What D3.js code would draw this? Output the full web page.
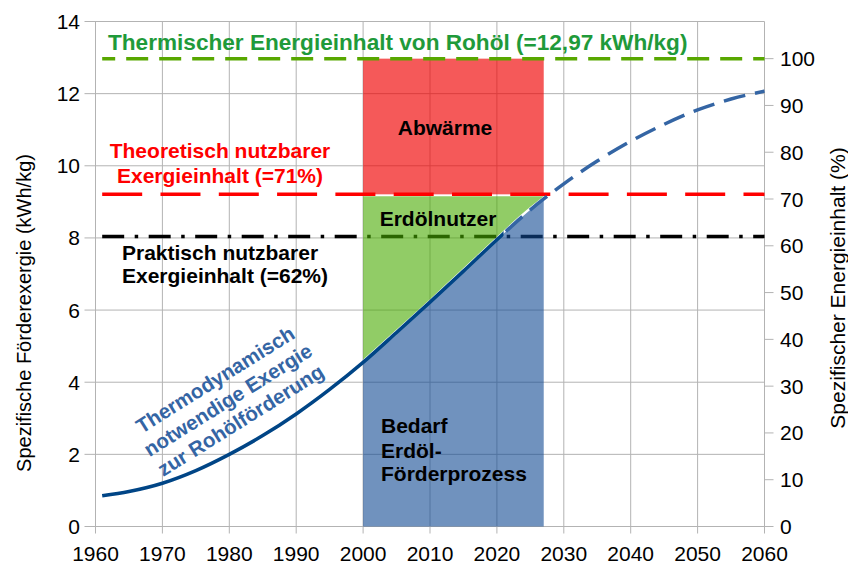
<!DOCTYPE html>
<html>
<head>
<meta charset="utf-8">
<script src="https://cdn.jsdelivr.net/npm/d3@7"></script>
<style>
  body { margin: 0; background: #fff; }
  text { font-family: "Liberation Sans", Arial, sans-serif; }
</style>
</head>
<body>
<svg id="chart"></svg>
<script>
const width = 848;
const height = 565;

// Kurve: thermodynamisch notwendige Exergie zur Rohölförderung (kWh/kg)
const curveYears = [1961, 1965, 1970, 1975, 1980, 1985, 1990, 1995, 2000, 2005, 2010, 2015, 2020, 2025, 2027, 2030, 2035, 2040, 2045, 2050, 2055, 2060];
const curveValues = [0.85, 0.97, 1.2, 1.55, 2.0, 2.52, 3.12, 3.8, 4.55, 5.38, 6.22, 7.08, 7.95, 8.78, 9.08, 9.5, 10.13, 10.68, 11.15, 11.55, 11.85, 12.07];
const solidEnd = 2021;   // ab hier gestrichelt (Prognose)

// Referenzlinien
const thermal = 12.97;          // kWh/kg = 100 %
const theoreticalPct = 71;
const practicalPct = 62;
const lineStart = 1961;

// Zeitraum der Flächen
const spanStart = 2000;
const spanEnd = 2027;

const xTicks = d3.range(1960, 2061, 10);
const yTicks = d3.range(0, 15, 2);
const pctTicks = d3.range(0, 101, 10);

const curve = curveYears.map((yr, i) => ({ year: yr, value: curveValues[i] }));

const svg = d3.select("#chart")
    .attr("width", width)
    .attr("height", height);

const x = d3.scaleLinear().domain([1960, 2060]).range([95.5, 764.5]);
const y = d3.scaleLinear().domain([0, 14]).range([526.5, 21.5]);
const yPct = d3.scaleLinear().domain([0, 100]).range([y(0), y(thermal)]);
const pctToKwh = (p) => thermal * p / 100;

const gridColor = "#b3b3b3";

const defs = svg.append("defs");
defs.append("clipPath").attr("id", "solidClip")
    .append("rect")
    .attr("x", 0).attr("y", 0)
    .attr("width", x(solidEnd)).attr("height", height);
defs.append("clipPath").attr("id", "dashClip")
    .append("rect")
    .attr("x", x(solidEnd)).attr("y", 0)
    .attr("width", width - x(solidEnd)).attr("height", height);

// Gitter
svg.append("g")
    .selectAll("line")
    .data(xTicks)
    .enter()
    .append("line")
    .attr("x1", (d) => x(d)).attr("x2", (d) => x(d))
    .attr("y1", y(14)).attr("y2", y(0) + 7)
    .attr("stroke", gridColor);

svg.append("g")
    .selectAll("line")
    .data(yTicks)
    .enter()
    .append("line")
    .attr("x1", x(1960) - 11).attr("x2", x(2060))
    .attr("y1", (d) => y(d)).attr("y2", (d) => y(d))
    .attr("stroke", gridColor);

// rechte Achse
svg.append("g")
    .selectAll("line")
    .data(pctTicks)
    .enter()
    .append("line")
    .attr("x1", x(2060)).attr("x2", x(2060) + 9)
    .attr("y1", (d) => yPct(d)).attr("y2", (d) => yPct(d))
    .attr("stroke", gridColor);

// praktisch nutzbar (62 %) - liegt unter den Flächen
svg.append("line")
    .attr("x1", x(lineStart)).attr("x2", x(2060))
    .attr("y1", y(pctToKwh(practicalPct))).attr("y2", y(pctToKwh(practicalPct)))
    .attr("stroke", "#000")
    .attr("stroke-width", 3.5)
    .attr("stroke-dasharray", "22,10.5,3.5,10.5");

// Flächen
const spanData = curve.filter((d) => d.year >= spanStart && d.year <= spanEnd);
const smooth = d3.curveMonotoneX;

svg.append("rect")
    .attr("x", x(spanStart))
    .attr("width", x(spanEnd) - x(spanStart))
    .attr("y", y(thermal))
    .attr("height", y(pctToKwh(theoreticalPct)) - y(thermal))
    .attr("fill", "#f00000")
    .attr("fill-opacity", 0.65);

svg.append("path")
    .datum(spanData)
    .attr("d", d3.area()
        .x((d) => x(d.year))
        .y0(y(pctToKwh(theoreticalPct)) + 2)
        .y1((d) => Math.max(y(d.value) - 3, y(pctToKwh(theoreticalPct)) + 2))
        .curve(smooth))
    .attr("fill", "#48aa00")
    .attr("fill-opacity", 0.6);

svg.append("path")
    .datum(spanData)
    .attr("d", d3.area()
        .x((d) => x(d.year))
        .y0(y(0))
        .y1((d) => y(d.value))
        .curve(smooth))
    .attr("fill", "#114993")
    .attr("fill-opacity", 0.6);

// theoretisch nutzbar (71 %)
svg.append("line")
    .attr("x1", x(lineStart)).attr("x2", x(2060))
    .attr("y1", y(pctToKwh(theoreticalPct))).attr("y2", y(pctToKwh(theoreticalPct)))
    .attr("stroke", "#ff0000")
    .attr("stroke-width", 3.5)
    .attr("stroke-dasharray", "40,18.3");

// thermischer Energieinhalt
svg.append("line")
    .attr("x1", x(lineStart)).attr("x2", x(2060))
    .attr("y1", y(thermal)).attr("y2", y(thermal))
    .attr("stroke", "#58a700")
    .attr("stroke-width", 3.5)
    .attr("stroke-dasharray", "22,11")
    .attr("stroke-dashoffset", 9);

// Kurve
const line = d3.line()
    .x((d) => x(d.year))
    .y((d) => y(d.value))
    .curve(d3.curveMonotoneX);

svg.append("path")
    .datum(curve)
    .attr("d", line)
    .attr("clip-path", "url(#dashClip)")
    .attr("fill", "none")
    .attr("stroke", "#3465a4")
    .attr("stroke-width", 3.5)
    .attr("stroke-dasharray", "22,10")
    .attr("stroke-dashoffset", 405);

svg.append("path")
    .datum(curve)
    .attr("d", line)
    .attr("clip-path", "url(#solidClip)")
    .attr("fill", "none")
    .attr("stroke", "#004586")
    .attr("stroke-width", 3.5);

// Achsenbeschriftung
svg.append("g")
    .selectAll("text")
    .data(yTicks)
    .enter()
    .append("text")
    .attr("x", 80)
    .attr("y", (d) => y(d) + 7.5)
    .attr("text-anchor", "end")
    .attr("font-size", 21)
    .attr("fill", "#000")
    .text((d) => d);

svg.append("g")
    .selectAll("text")
    .data(xTicks)
    .enter()
    .append("text")
    .attr("x", (d) => x(d))
    .attr("y", 561)
    .attr("text-anchor", "middle")
    .attr("font-size", 21)
    .attr("fill", "#000")
    .text((d) => d);

svg.append("g")
    .selectAll("text")
    .data(pctTicks)
    .enter()
    .append("text")
    .attr("x", 780)
    .attr("y", (d) => yPct(d) + 7.5)
    .attr("font-size", 21)
    .attr("fill", "#000")
    .text((d) => d);

svg.append("text")
    .attr("transform", "translate(31,313) rotate(-90)")
    .attr("text-anchor", "middle")
    .attr("font-size", 20)
    .text("Spezifische Förderexergie (kWh/kg)");

svg.append("text")
    .attr("transform", "translate(845,288) rotate(-90)")
    .attr("text-anchor", "middle")
    .attr("font-size", 21)
    .text("Spezifischer Energieinhalt (%)");

// Annotationen
const bold = (sel) => sel.attr("font-weight", "bold").attr("font-size", 21);

bold(svg.append("text"))
    .attr("x", 108).attr("y", 50)
    .attr("font-size", 22.6)
    .attr("fill", "#1f9a3a")
    .text("Thermischer Energieinhalt von Rohöl (=12,97 kWh/kg)");

const redLabel = bold(svg.append("text"))
    .attr("text-anchor", "middle")
    .attr("fill", "#ff0000");
redLabel.append("tspan").attr("x", 220).attr("y", 158).text("Theoretisch nutzbarer");
redLabel.append("tspan").attr("x", 220).attr("y", 183).text("Exergieinhalt (=71%)");

const blackLabel = bold(svg.append("text"))
    .attr("fill", "#000");
blackLabel.append("tspan").attr("x", 122).attr("y", 260).text("Praktisch nutzbarer");
blackLabel.append("tspan").attr("x", 122).attr("y", 283).text("Exergieinhalt (=62%)");

bold(svg.append("text"))
    .attr("x", 445).attr("y", 135)
    .attr("text-anchor", "middle")
    .text("Abwärme");

bold(svg.append("text"))
    .attr("x", 438).attr("y", 226)
    .attr("text-anchor", "middle")
    .text("Erdölnutzer");

const demand = bold(svg.append("text"));
demand.append("tspan").attr("x", 381).attr("y", 433).text("Bedarf");
demand.append("tspan").attr("x", 381).attr("y", 458).text("Erdöl-");
demand.append("tspan").attr("x", 381).attr("y", 481).text("Förderprozess");

const blueLabel = svg.append("text")
    .attr("transform", "translate(228,400) rotate(-32)")
    .attr("text-anchor", "middle")
    .attr("font-weight", "bold")
    .attr("font-size", 20.5)
    .attr("fill", "#3465a4");
blueLabel.append("tspan").attr("x", 0).attr("y", -17).text("Thermodynamisch");
blueLabel.append("tspan").attr("x", 0).attr("y", 7).text("notwendige Exergie");
blueLabel.append("tspan").attr("x", 0).attr("y", 31).text("zur Rohölförderung");
</script>
</body>
</html>
